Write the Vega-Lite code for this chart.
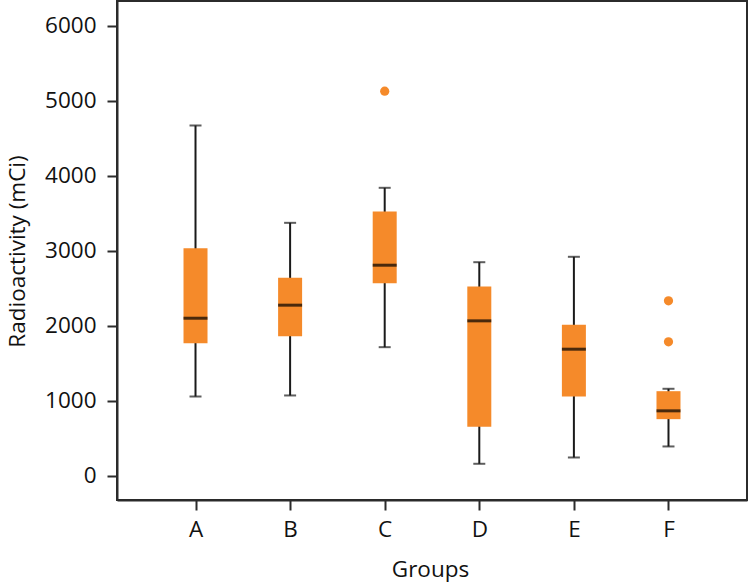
{
  "$schema": "https://vega.github.io/schema/vega-lite/v6.json",
  "autosize": {"type": "none"},
  "padding": {"left": 117, "top": 1, "right": 3, "bottom": 83},
  "width": 630,
  "height": 499,
  "background": "white",
  "config": {
    "view": {"stroke": "#2b2b2b", "strokeWidth": 2},
    "font": "Open Sans",
    "axis": {
      "grid": false,
      "domainColor": "#2b2b2b",
      "domainWidth": 2,
      "tickColor": "#2b2b2b",
      "tickWidth": 2,
      "tickSize": 10,
      "labelFont": "Open Sans",
      "labelFontSize": 22.5,
      "labelColor": "#111",
      "titleFont": "Open Sans",
      "titleFontSize": 22.5,
      "titleFontWeight": "normal",
      "titleColor": "#111"
    }
  },
  "datasets": {
    "boxes": [
      {"group": "A", "lo": 1057, "q1": 1768, "med": 2101, "q3": 3035, "hi": 4671},
      {"group": "B", "lo": 1071, "q1": 1862, "med": 2275, "q3": 2640, "hi": 3373},
      {"group": "C", "lo": 1715, "q1": 2568, "med": 2808, "q3": 3524, "hi": 3840},
      {"group": "D", "lo": 160, "q1": 653, "med": 2066, "q3": 2524, "hi": 2848},
      {"group": "E", "lo": 244, "q1": 1057, "med": 1688, "q3": 2013, "hi": 2920},
      {"group": "F", "lo": 391, "q1": 755, "med": 866, "q3": 1128, "hi": 1160}
    ],
    "outliers": [
      {"group": "C", "value": 5128},
      {"group": "F", "value": 2333},
      {"group": "F", "value": 1787}
    ]
  },
  "layer": [
    {
      "data": {"name": "boxes"},
      "mark": {"type": "rule", "color": "#1a1a1a", "strokeWidth": 2},
      "encoding": {
        "x": {
          "field": "group", "type": "nominal",
          "scale": {"type": "point", "padding": 0.83},
          "axis": {"labelAngle": 0, "labelPadding": 8, "title": "Groups", "titleX": 313, "titleY": 76, "titleBaseline": "alphabetic"}
        },
        "y": {
          "field": "lo", "type": "quantitative",
          "scale": {"domain": [-323, 6331], "nice": false, "zero": false},
          "axis": {"values": [0, 1000, 2000, 3000, 4000, 5000, 6000], "format": "d", "labelPadding": 11, "title": "Radioactivity (mCi)", "titleX": -88, "titleY": 250, "titleAngle": -90, "titleBaseline": "bottom", "titleAlign": "center"}
        },
        "y2": {"field": "hi"}
      }
    },
    {
      "data": {"name": "boxes"},
      "mark": {"type": "tick", "orient": "horizontal", "color": "#1a1a1a", "size": 12, "thickness": 2},
      "encoding": {
        "x": {"field": "group", "type": "nominal"},
        "y": {"field": "lo", "type": "quantitative"}
      }
    },
    {
      "data": {"name": "boxes"},
      "mark": {"type": "tick", "orient": "horizontal", "color": "#1a1a1a", "size": 12, "thickness": 2},
      "encoding": {
        "x": {"field": "group", "type": "nominal"},
        "y": {"field": "hi", "type": "quantitative"}
      }
    },
    {
      "data": {"name": "boxes"},
      "mark": {"type": "bar", "color": "#F58A2A", "size": 24},
      "encoding": {
        "x": {"field": "group", "type": "nominal"},
        "y": {"field": "q1", "type": "quantitative"},
        "y2": {"field": "q3"}
      }
    },
    {
      "data": {"name": "boxes"},
      "mark": {"type": "tick", "orient": "horizontal", "color": "#000", "size": 24, "thickness": 3},
      "encoding": {
        "x": {"field": "group", "type": "nominal"},
        "y": {"field": "med", "type": "quantitative"}
      }
    },
    {
      "data": {"name": "outliers"},
      "mark": {"type": "point", "filled": true, "color": "#F58A2A", "opacity": 1, "size": 85},
      "encoding": {
        "x": {"field": "group", "type": "nominal"},
        "y": {"field": "value", "type": "quantitative"}
      }
    }
  ]
}
